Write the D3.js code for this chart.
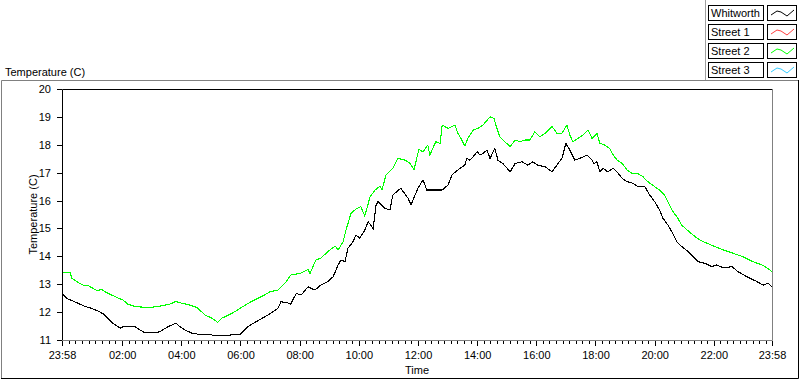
<!DOCTYPE html>
<html><head><meta charset="utf-8">
<script src="https://cdn.jsdelivr.net/npm/d3@7/dist/d3.min.js"></script>
<style>
body{margin:0;background:#fff}
svg{display:block;font-family:"Liberation Sans",Arial,sans-serif;font-size:11px}
</style>
</head><body>
<svg id="chart" width="800" height="380"></svg>
<script>
// ---------- data ----------
const seriesNames = ["Whitworth", "Street 1", "Street 2", "Street 3"];
const seriesColors = ["#000000", "#ff4040", "#00ff00", "#33ccff"];

const whitworthTimes = ["23:58","00:08","00:20","00:35","00:47","00:59","01:13","01:23","01:31","01:41","01:52","01:56","02:04","02:24","02:36","02:46","03:07","03:17","03:33","03:41","03:49","03:57","04:07","04:22","04:38","04:58","05:08","05:29","05:43","05:59","06:15","06:35","06:56","07:16","07:22","07:35","07:42","07:53","08:03","08:17","08:31","08:43","08:57","09:08","09:18","09:24","09:32","09:38","09:48","09:54","10:02","10:12","10:19","10:29","10:35","10:39","10:53","11:03","11:09","11:25","11:40","11:46","11:54","12:00","12:10","12:18","12:49","13:01","13:09","13:21","13:35","13:39","13:45","13:52","14:00","14:06","14:12","14:20","14:26","14:36","14:42","14:52","15:07","15:17","15:31","15:43","15:53","16:03","16:18","16:32","16:44","16:52","17:00","17:08","17:18","17:28","17:43","17:53","17:57","18:03","18:09","18:15","18:25","18:36","18:46","18:54","19:04","19:16","19:26","19:40","19:50","20:00","20:10","20:17","20:27","20:35","20:45","20:55","21:08","21:18","21:28","21:42","21:56","22:06","22:19","22:37","22:49","23:07","23:28","23:40","23:50","23:58"];
const whitworthValues = [12.67,12.49,12.40,12.28,12.19,12.13,12.02,11.92,11.78,11.60,11.48,11.42,11.50,11.50,11.36,11.26,11.26,11.30,11.48,11.54,11.60,11.48,11.36,11.24,11.20,11.20,11.15,11.15,11.19,11.20,11.48,11.69,11.90,12.14,12.37,12.34,12.29,12.67,12.61,12.91,12.79,12.97,13.09,13.27,13.69,13.87,13.81,14.29,14.52,14.76,14.65,14.94,15.24,15.00,15.84,15.96,15.72,15.66,16.20,16.44,16.08,15.84,16.20,16.44,16.74,16.38,16.38,16.56,16.92,17.10,17.27,17.51,17.45,17.57,17.75,17.63,17.69,17.81,17.51,17.87,17.45,17.33,17.03,17.33,17.39,17.27,17.39,17.27,17.21,17.03,17.33,17.51,18.05,17.81,17.45,17.51,17.63,17.45,17.33,17.39,17.03,17.16,17.03,17.16,16.98,16.80,16.68,16.62,16.50,16.50,16.20,15.96,15.66,15.36,15.12,14.88,14.52,14.35,14.17,13.99,13.81,13.75,13.63,13.69,13.59,13.63,13.45,13.27,13.09,12.97,13.03,12.91];

const street2Times = ["23:58","00:14","00:18","00:28","00:41","00:51","01:03","01:11","01:17","01:25","01:39","01:54","02:02","02:12","02:26","02:40","02:56","03:21","03:37","03:49","04:01","04:18","04:32","04:48","05:02","05:14","05:22","05:39","05:51","06:05","06:21","06:42","07:00","07:16","07:30","07:42","08:01","08:17","08:21","08:33","08:43","08:57","09:12","09:18","09:28","09:34","09:44","09:54","10:04","10:12","10:23","10:33","10:43","10:47","10:55","11:09","11:19","11:34","11:44","11:52","12:02","12:10","12:20","12:24","12:36","12:45","12:49","13:01","13:09","13:15","13:21","13:29","13:35","13:41","13:52","14:02","14:12","14:26","14:34","14:40","14:46","14:56","15:07","15:17","15:27","15:37","15:47","15:57","16:07","16:18","16:32","16:42","16:52","17:02","17:08","17:14","17:24","17:35","17:45","17:53","18:03","18:09","18:19","18:29","18:36","18:44","18:54","19:04","19:14","19:24","19:36","19:46","20:00","20:10","20:20","20:27","20:35","20:45","20:55","21:06","21:18","21:32","21:46","22:02","22:19","22:39","22:59","23:19","23:38","23:54","23:58"];
const street2Values = [13.43,13.43,13.21,13.09,12.97,12.95,12.83,12.76,12.83,12.73,12.61,12.49,12.43,12.28,12.20,12.18,12.16,12.23,12.29,12.38,12.32,12.25,12.16,11.90,11.78,11.63,11.78,11.92,12.04,12.20,12.37,12.55,12.73,12.79,13.03,13.33,13.39,13.53,13.39,13.87,13.93,14.17,14.37,14.23,14.52,14.94,15.54,15.69,15.78,15.45,16.14,16.38,16.52,16.38,16.92,17.16,17.51,17.45,17.33,17.12,17.84,17.75,17.99,17.63,18.11,18.05,18.71,18.59,18.65,18.71,18.41,18.17,17.96,18.23,18.53,18.59,18.71,19.00,18.95,18.59,18.29,18.11,17.93,18.17,18.11,18.17,18.17,18.47,18.29,18.41,18.65,18.41,18.41,18.71,18.35,18.11,18.23,18.35,18.53,18.23,18.41,18.05,17.99,17.87,17.63,17.45,17.33,17.10,16.98,16.98,16.86,16.68,16.50,16.38,16.20,15.96,15.66,15.42,15.12,14.94,14.76,14.58,14.47,14.35,14.23,14.11,13.99,13.81,13.69,13.51,13.45];

const yTickValues = [11, 12, 13, 14, 15, 16, 17, 18, 19, 20];
const xTickLabels = ["23:58","02:00","04:00","06:00","08:00","10:00","12:00","14:00","16:00","18:00","20:00","22:00","23:58"];
const yTitle = "Temperature (C)";
const xTitle = "Time";

// ---------- helpers ----------
function parseT(s, i) {
  const [h, m] = s.split(":").map(Number);
  return new Date(2011, 0, i === 0 ? 1 : 2, h, m);
}
const svg = d3.select("#chart");
const M = {left: 62, right: 772, top: 89, bottom: 340};

const x = d3.scaleTime()
  .domain([parseT(xTickLabels[0], 0), parseT(xTickLabels[xTickLabels.length - 1], 1)])
  .range([M.left, M.right]);
const y = d3.scaleLinear().domain([11, 20]).range([M.bottom, M.top]);

// outer frame
svg.append("rect").attr("x", 0).attr("y", 0).attr("width", 800).attr("height", 380).attr("fill", "#fff");
svg.append("path").attr("d", "M1.5,378 V80.5 H798").attr("fill", "none").attr("stroke", "#808080");
svg.append("path").attr("d", "M798.5,80 V378.5 H1").attr("fill", "none").attr("stroke", "#000");

// top-left label
svg.append("text").attr("x", 5).attr("y", 76).text(yTitle).attr("fill", "#000");

// plot frame
svg.append("path").attr("d", `M${M.left + 0.5},${M.bottom} V${M.top + 0.5} H${M.right}`).attr("fill", "none").attr("stroke", "#000");
svg.append("path").attr("d", `M${M.right + 0.5},${M.top} V${M.bottom + 0.5} H${M.left}`).attr("fill", "none").attr("stroke", "#808080");

// y axis
const yAxis = d3.axisLeft(y).tickValues(yTickValues).tickSize(5).tickPadding(6).tickFormat(d3.format("d"));
const gy = svg.append("g").attr("transform", `translate(${M.left},0)`).call(yAxis);
gy.select(".domain").remove();
gy.selectAll(".tick line").attr("stroke", "#000").attr("shape-rendering", "crispEdges");
gy.selectAll(".tick text").attr("font-size", 11).attr("font-family", "Liberation Sans, Arial, sans-serif").attr("fill", "#000");

// x axis majors
const majorDates = xTickLabels.map((s, i) => parseT(s, i));
const xAxis = d3.axisBottom(x).tickValues(majorDates).tickSize(5).tickPadding(5).tickFormat(d3.timeFormat("%H:%M"));
const gx = svg.append("g").attr("transform", `translate(0,${M.bottom + 1})`).call(xAxis);
gx.select(".domain").remove();
gx.selectAll(".tick line").attr("stroke", "#000").attr("shape-rendering", "crispEdges");
gx.selectAll(".tick text").attr("font-size", 11).attr("font-family", "Liberation Sans, Arial, sans-serif").attr("fill", "#000");

// x minor ticks: 9 subdivisions between majors
const minors = [];
for (let i = 0; i < majorDates.length - 1; i++) {
  const a = +majorDates[i], b = +majorDates[i + 1];
  for (let k = 1; k < 9; k++) minors.push(new Date(a + (b - a) * k / 9));
}
svg.append("g").selectAll("line").data(minors).join("line")
  .attr("x1", d => Math.round(x(d)) + 0.5).attr("x2", d => Math.round(x(d)) + 0.5)
  .attr("y1", M.bottom + 1).attr("y2", M.bottom + 4)
  .attr("stroke", "#000");

// axis titles
svg.append("text").attr("x", (M.left + M.right) / 2).attr("y", 374).attr("text-anchor", "middle").text(xTitle);
svg.append("text").attr("transform", `translate(37,${(M.top + M.bottom) / 2}) rotate(-90)`).attr("text-anchor", "middle").text(yTitle);

// clip
svg.append("clipPath").attr("id", "clip").append("rect")
  .attr("x", M.left + 1).attr("y", M.top + 1).attr("width", M.right - M.left - 1).attr("height", M.bottom - M.top - 1);

const line = d3.line().x(d => x(d.t)).y(d => y(d.v));
const seriesData = [
  {color: seriesColors[2], pts: street2Times.map((s, i) => ({t: parseT(s, i), v: street2Values[i]}))},
  {color: seriesColors[0], pts: whitworthTimes.map((s, i) => ({t: parseT(s, i), v: whitworthValues[i]}))}
];
svg.append("g").attr("clip-path", "url(#clip)").selectAll("path").data(seriesData).join("path")
  .attr("d", d => line(d.pts)).attr("fill", "none").attr("stroke", d => d.color).attr("stroke-width", 1.1)
  .attr("shape-rendering", "crispEdges");

// legend
svg.append("line").attr("x1", 705.5).attr("x2", 705.5).attr("y1", 0).attr("y2", 80).attr("stroke", "#a0a0a0");
const lg = svg.append("g").selectAll("g").data(seriesNames).join("g")
  .attr("transform", (d, i) => `translate(0,${5 + i * 19})`);
lg.append("rect").attr("x", 708.5).attr("y", 0.5).attr("width", 55).attr("height", 15).attr("fill", "#fff").attr("stroke", "#000");
lg.append("text").attr("x", 711).attr("y", 12).text(d => d);
lg.append("rect").attr("x", 767.5).attr("y", 0.5).attr("width", 29).attr("height", 15).attr("fill", "#fff").attr("stroke", "#000");
const swatch = d3.line();
lg.append("path").attr("d", swatch([[771, 10], [777, 6], [781, 7], [787, 11], [794, 5]]))
  .attr("fill", "none").attr("stroke", (d, i) => seriesColors[i]).attr("stroke-width", 1);
</script>
</body></html>
